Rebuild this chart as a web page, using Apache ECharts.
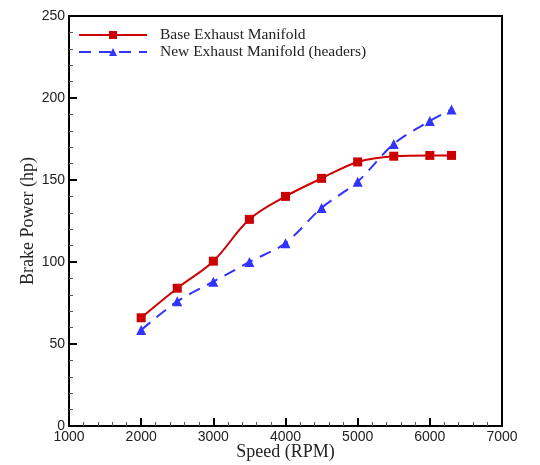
<!DOCTYPE html>
<html><head><meta charset="utf-8">
<script src="https://cdn.jsdelivr.net/npm/echarts@6/dist/echarts.min.js"></script>
<style>html,body{margin:0;padding:0;background:#fff}#c{width:540px;height:465px}</style>
</head><body><div id="c"></div>
<script>
var speeds = [2000, 2500, 3000, 3500, 4000, 4500, 5000, 5500, 6000, 6300];
var baseManifold = [66, 84, 100.5, 126, 140, 151, 161, 164.5, 165, 165];
var newManifold = [58.5, 76, 88, 100, 111.5, 133, 149, 172, 186, 193];
var seriesNames = ['Base Exhaust Manifold', 'New Exhaust Manifold (headers)'];

function pairs(xs, ys){ return xs.map(function(x,i){return [x, ys[i]];}); }

var chart = echarts.init(document.getElementById('c'));
chart.setOption({
  animation: false,
  grid: {left: 69, right: 38, top: 16, bottom: 39, show: true, borderColor: '#000', borderWidth: 2,
         backgroundColor: 'transparent', containLabel: false, outerBoundsMode: 'none'},
  legend: {
    left: 73, top: 22, orient: 'vertical', itemWidth: 68, itemHeight: 10, itemGap: 1,
    textStyle: {fontFamily: 'Liberation Serif', fontSize: 15.5, color: '#222', padding: [0,0,0,8]},
    data: seriesNames
  },
  xAxis: {
    type: 'value', min: 1000, max: 7000, interval: 1000,
    name: 'Speed (RPM)', nameLocation: 'middle', nameGap: 17, nameMoveOverlap: false,
    nameTextStyle: {fontFamily: 'Liberation Serif', fontSize: 18, color: '#222'},
    axisLine: {show: true, lineStyle: {color: '#000', width: 2}},
    axisTick: {show: true, inside: true, length: 8, lineStyle: {color: '#000', width: 2}},
    minorTick: {show: true, splitNumber: 5, length: 4, lineStyle: {color: '#555', width: 1}},
    axisLabel: {fontFamily: 'Liberation Sans', fontSize: 14, color: '#222', margin: 4,
                formatter: function(v){ return String(v); }},
    splitLine: {show: false}
  },
  yAxis: {
    type: 'value', min: 0, max: 250, interval: 50,
    name: 'Brake Power (hp)', nameLocation: 'middle', nameGap: 32, nameMoveOverlap: false,
    nameTextStyle: {fontFamily: 'Liberation Serif', fontSize: 18, color: '#222'},
    axisLine: {show: true, lineStyle: {color: '#000', width: 2}},
    axisTick: {show: true, inside: true, length: 8, lineStyle: {color: '#000', width: 2}},
    minorTick: {show: true, splitNumber: 5, length: 4, lineStyle: {color: '#555', width: 1}},
    axisLabel: {fontFamily: 'Liberation Sans', fontSize: 14, color: '#222', margin: 4},
    splitLine: {show: false}
  },
  series: [
    {
      name: seriesNames[0], type: 'line', data: pairs(speeds, baseManifold),
      smooth: 0.35, symbol: 'rect', symbolSize: 9,
      lineStyle: {color: '#cc0000', width: 2},
      itemStyle: {color: '#cc0000'}
    },
    {
      name: seriesNames[1], type: 'line', data: pairs(speeds, newManifold),
      smooth: 0.3, symbol: 'triangle', symbolSize: 10,
      lineStyle: {color: '#3333ff', width: 2, type: [12, 8]},
      itemStyle: {color: '#3333ff'}
    }
  ]
});
</script></body></html>
